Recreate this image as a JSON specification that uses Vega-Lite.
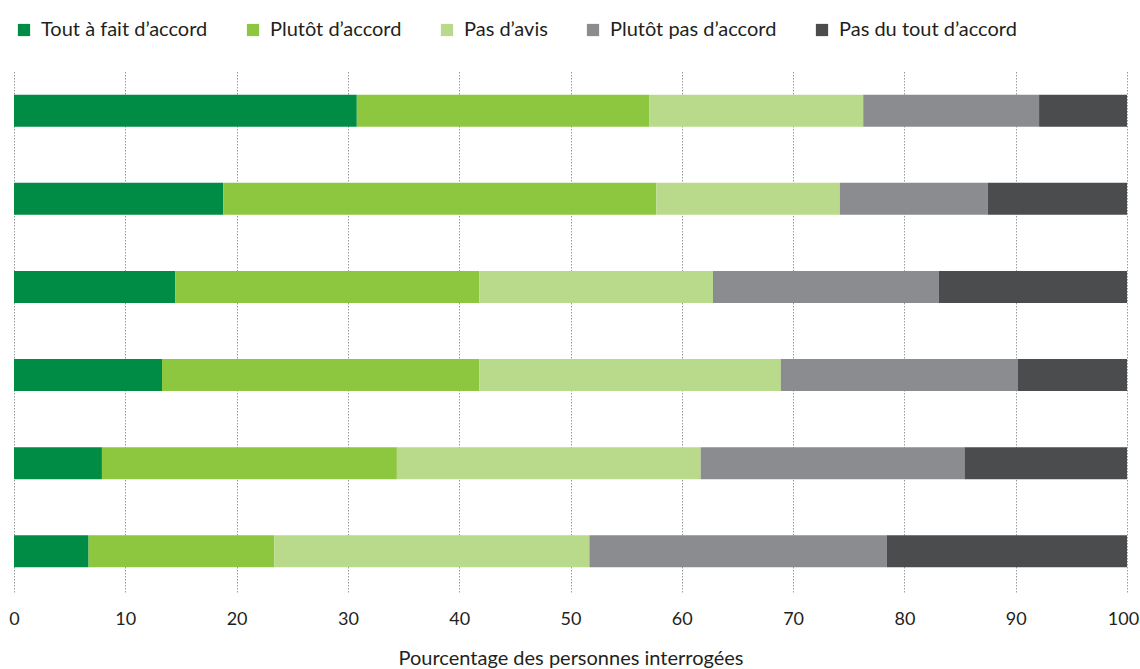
{
  "$schema": "https://vega.github.io/schema/vega-lite/v6.json",
  "width": 1113,
  "height": 522,
  "autosize": {"type": "none"},
  "padding": {"left": 14, "top": 70, "right": 13, "bottom": 77},
  "background": "white",
  "config": {
    "view": {"stroke": null},
    "font": "Lato"
  },
  "data": {
    "values": [
      {"q": 1, "cat": "Tout à fait d’accord", "o": 1, "v": 30.8},
      {"q": 1, "cat": "Plutôt d’accord", "o": 2, "v": 26.3},
      {"q": 1, "cat": "Pas d’avis", "o": 3, "v": 19.2},
      {"q": 1, "cat": "Plutôt pas d’accord", "o": 4, "v": 15.8},
      {"q": 1, "cat": "Pas du tout d’accord", "o": 5, "v": 7.9},
      {"q": 2, "cat": "Tout à fait d’accord", "o": 1, "v": 18.8},
      {"q": 2, "cat": "Plutôt d’accord", "o": 2, "v": 38.9},
      {"q": 2, "cat": "Pas d’avis", "o": 3, "v": 16.5},
      {"q": 2, "cat": "Plutôt pas d’accord", "o": 4, "v": 13.3},
      {"q": 2, "cat": "Pas du tout d’accord", "o": 5, "v": 12.5},
      {"q": 3, "cat": "Tout à fait d’accord", "o": 1, "v": 14.5},
      {"q": 3, "cat": "Plutôt d’accord", "o": 2, "v": 27.3},
      {"q": 3, "cat": "Pas d’avis", "o": 3, "v": 21.0},
      {"q": 3, "cat": "Plutôt pas d’accord", "o": 4, "v": 20.3},
      {"q": 3, "cat": "Pas du tout d’accord", "o": 5, "v": 16.9},
      {"q": 4, "cat": "Tout à fait d’accord", "o": 1, "v": 13.3},
      {"q": 4, "cat": "Plutôt d’accord", "o": 2, "v": 28.5},
      {"q": 4, "cat": "Pas d’avis", "o": 3, "v": 27.1},
      {"q": 4, "cat": "Plutôt pas d’accord", "o": 4, "v": 21.3},
      {"q": 4, "cat": "Pas du tout d’accord", "o": 5, "v": 9.8},
      {"q": 5, "cat": "Tout à fait d’accord", "o": 1, "v": 7.9},
      {"q": 5, "cat": "Plutôt d’accord", "o": 2, "v": 26.5},
      {"q": 5, "cat": "Pas d’avis", "o": 3, "v": 27.3},
      {"q": 5, "cat": "Plutôt pas d’accord", "o": 4, "v": 23.7},
      {"q": 5, "cat": "Pas du tout d’accord", "o": 5, "v": 14.6},
      {"q": 6, "cat": "Tout à fait d’accord", "o": 1, "v": 6.7},
      {"q": 6, "cat": "Plutôt d’accord", "o": 2, "v": 16.7},
      {"q": 6, "cat": "Pas d’avis", "o": 3, "v": 28.3},
      {"q": 6, "cat": "Plutôt pas d’accord", "o": 4, "v": 26.7},
      {"q": 6, "cat": "Pas du tout d’accord", "o": 5, "v": 21.6}
    ]
  },
  "mark": {"type": "bar"},
  "encoding": {
    "y": {
      "field": "q",
      "type": "ordinal",
      "axis": null,
      "scale": {"paddingInner": 0.636, "paddingOuter": 0.28}
    },
    "x": {
      "field": "v",
      "type": "quantitative",
      "stack": "zero",
      "scale": {"domain": [0, 100], "nice": false},
      "axis": {
        "values": [0, 10, 20, 30, 40, 50, 60, 70, 80, 90, 100],
        "title": "Pourcentage des personnes interrogées",
        "grid": true,
        "gridColor": "#9a9a9a",
        "gridDash": [1.5, 1.5],
        "gridWidth": 1,
        "ticks": false,
        "domain": false,
        "labelFontSize": 18,
        "labelColor": "#231f20",
        "labelPadding": 18,
        "labelFont": "Lato",
        "labelFlush": false,
        "labelOffset": {"condition": {"test": "datum.value == 100", "value": -4}, "value": 0},
        "titleFontSize": 20,
        "titleFontWeight": "normal",
        "titleColor": "#231f20",
        "titlePadding": 20,
        "titleFont": "Lato"
      }
    },
    "color": {
      "field": "cat",
      "type": "nominal",
      "scale": {
        "domain": ["Tout à fait d’accord", "Plutôt d’accord", "Pas d’avis", "Plutôt pas d’accord", "Pas du tout d’accord"],
        "range": ["#008c44", "#8dc63f", "#b9da8a", "#8b8c8f", "#4b4c4e"]
      },
      "legend": {
        "orient": "none",
        "direction": "horizontal",
        "legendX": 0,
        "legendY": -50,
        "title": null,
        "symbolType": "square",
        "symbolSize": 150,
        "symbolStrokeWidth": 0,
        "labelFontSize": 20,
        "labelColor": "#231f20",
        "labelFont": "Lato",
        "labelOffset": 7,
        "columnPadding": 35,
        "padding": 0,
        "labelLimit": 400
      }
    },
    "order": {"field": "o", "type": "quantitative"}
  }
}
